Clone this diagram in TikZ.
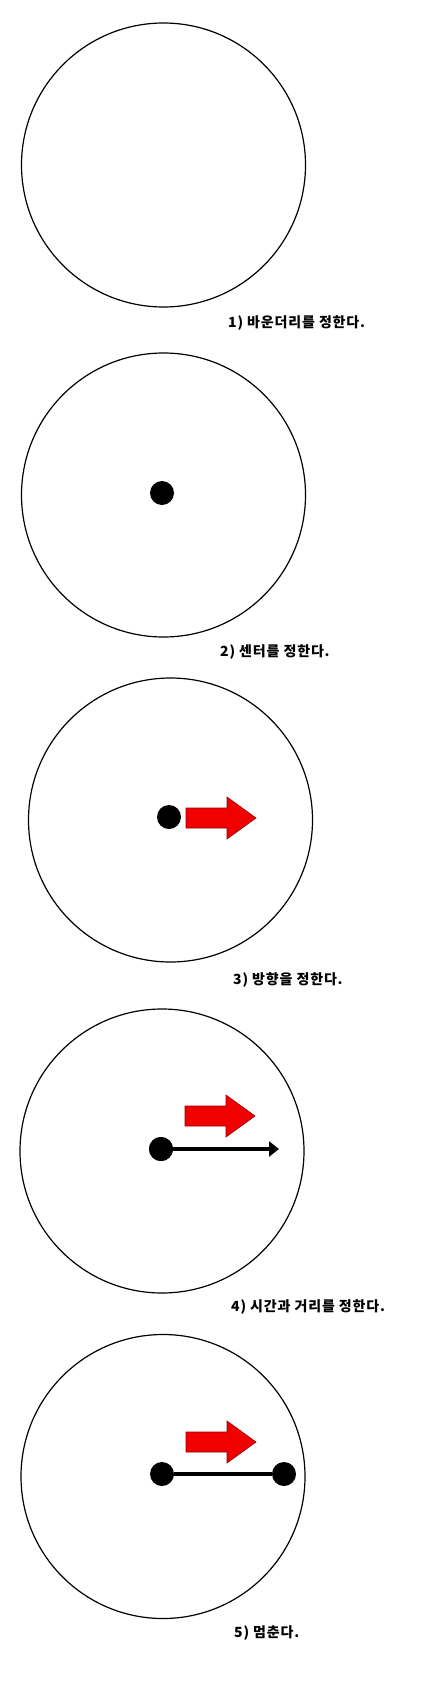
\documentclass[tikz,border=0pt]{standalone}
\usepackage{fontspec}
\newfontfamily\kr[LetterSpace=6]{Noto Sans CJK KR}
\usetikzlibrary{arrows.meta}
\definecolor{arrowred}{RGB}{240,0,0}
\definecolor{arrowedge}{RGB}{150,0,0}
\tikzset{
  bound/.style={circle, draw=black, line width=1.2pt, minimum size=284pt, inner sep=0pt},
  dot/.style={circle, fill=black, minimum size=24pt, inner sep=0pt},
  caption/.style={anchor=west, inner sep=0pt, font=\kr\bfseries\fontsize{14pt}{16pt}\selectfont},
  track/.style={line width=4pt, black},
  redarrow/.pic={
    \path[fill=arrowred, draw=arrowedge, line width=0.6pt]
      (0,-10) -- (41,-10) -- (41,-21) -- (70,0) -- (41,21) -- (41,10) -- (0,10) -- cycle;
  }
}
\begin{document}
\begin{tikzpicture}[x=1pt, y=-1pt]
\useasboundingbox (0,0) rectangle (434,1696);
\fill[white] (0,0) rectangle (434,1696);

% 1
\node[bound] (c1) at (163.5,165) {};
\node[caption] (t1) at (228,323) {1) 바운더리를 정한다.};

% 2
\node[bound] (c2) at (163.5,495) {};
\node[dot] (d2) at (162,493) {};
\node[caption] (t2) at (220,652) {2) 센터를 정한다.};

% 3
\node[bound] (c3) at (170.5,820) {};
\node[dot] (d3) at (169,817) {};
\pic at (186,818) {redarrow};
\node[caption] (t3) at (233,980) {3) 방향을 정한다.};

% 4
\node[bound] (c4) at (162,1151) {};
\node[dot] (d4) at (161,1149) {};
\coordinate (e4) at (279,1149);
\draw[track, -{Triangle[length=10pt,width=15pt]}] (d4.center) -- (e4);
\node[dot] (d4b) at (161,1149) {};
\pic at (185,1116) {redarrow};
\node[caption] (t4) at (231,1307) {4) 시간과 거리를 정한다.};

% 5
\node[bound] (c5) at (163,1476.5) {};
\node[dot] (d5) at (162,1474) {};
\node[dot] (d5b) at (284,1474) {};
\draw[track] (d5) -- (d5b);
\pic at (186,1442) {redarrow};
\node[caption] (t5) at (234,1633) {5) 멈춘다.};
\end{tikzpicture}
\end{document}
